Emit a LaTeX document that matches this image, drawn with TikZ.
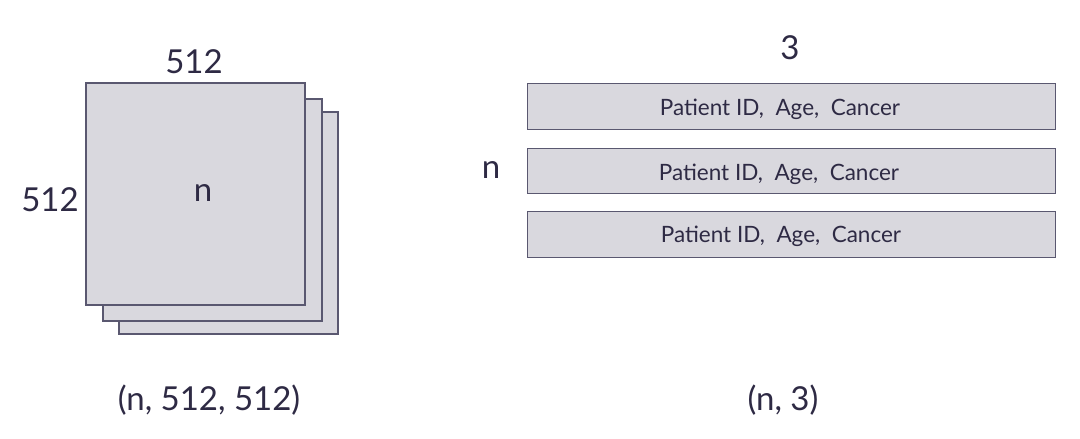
\documentclass[tikz,border=0pt]{standalone}
\usepackage{fontspec}
\setmainfont{Lato}
\definecolor{boxfill}{HTML}{D9D8DE}
\definecolor{boxline}{HTML}{5A5870}
\definecolor{ink}{HTML}{2E2A44}
\begin{document}
\begin{tikzpicture}[x=1pt,y=-1pt,
  sheet/.style={draw=boxline,fill=boxfill,line width=1.2pt},
  big/.style={text=ink,font=\fontsize{33}{36}\selectfont,inner sep=0pt},
  rowtext/.style={text=ink,font=\fontsize{22.5}{26}\selectfont,inner sep=0pt,anchor=base}]
\useasboundingbox (0,0) rectangle (1080,439);
% stacked sheets
\draw[sheet] (119,112) rectangle (338,334);
\draw[sheet] (103,99) rectangle (322,321);
\draw[sheet] (86,83) rectangle (305,305);
\node[big] (nimg) at (203,193) {n};
\node[big] (top512) at (194,62) {512};
\node[big] (left512) at (50,200) {512};
\node[big] (shapeimg) at (209,400) {(n, 512, 512)};
% table rows
\node[sheet,minimum width=528pt,minimum height=46pt,inner sep=0pt,anchor=north west] (r1) at (527,83) {};
\node[sheet,minimum width=528pt,minimum height=45pt,inner sep=0pt,anchor=north west] (r2) at (527,148) {};
\node[sheet,minimum width=528pt,minimum height=46pt,inner sep=0pt,anchor=north west] (r3) at (527,211) {};
\node[rowtext] (t1) at (780,115) {Patient ID,\ \ Age,\ \ Cancer};
\node[rowtext] (t2) at (779,180) {Patient ID,\ \ Age,\ \ Cancer};
\node[rowtext] (t3) at (781,242) {Patient ID,\ \ Age,\ \ Cancer};
\node[big] (three) at (790,48) {3};
\node[big] (nrows) at (491,170) {n};
\node[big] (shapetab) at (783,400) {(n, 3)};
\end{tikzpicture}
\end{document}
